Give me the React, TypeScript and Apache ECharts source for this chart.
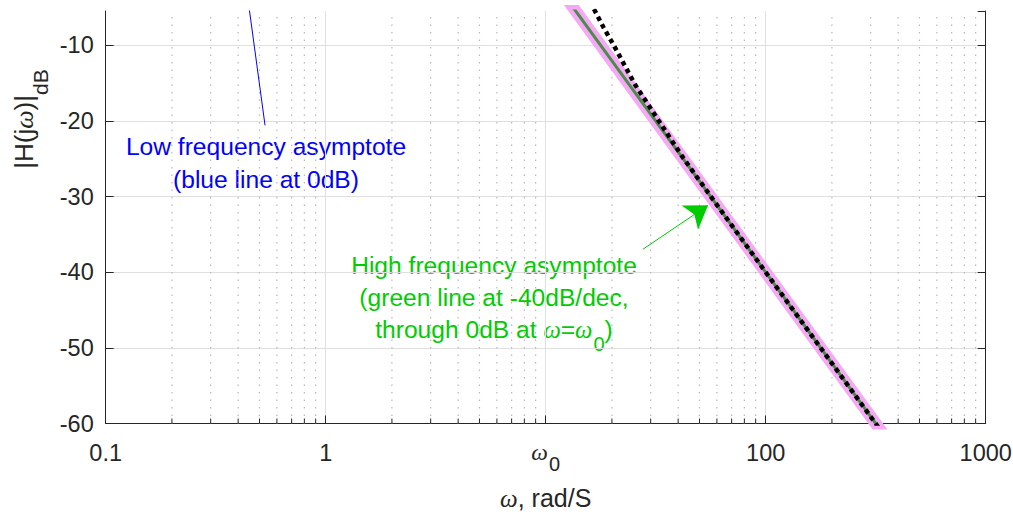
import { useEffect, useRef } from 'react';
import * as echarts from 'echarts';

// ---- axis / tick data ----
const xTickLabels = ['0.1', '1', '{w|ω}{s|0}', '100', '1000'];
const decadeStarts = [0.1, 1, 10, 100];
const minorMultipliers = [2, 3, 4, 5, 6, 7, 8, 9];
const yMin = -60;
const yMax = -5.45;
const yStep = 10;

// ---- series data ([omega rad/s, dB]) ----
const lowFreqAsymptote = [[0.1, 0], [10, 0]];
const highFreqAsymptote = [[10, 0], [1000, -80]];
const magnitudeThick = [[10, 0], [1000, -80]];
const magnitudeDotted = [
  [13.9, -1.3], [16.75, -5.45], [18.3, -7.6], [20.4, -10], [25.5, -15.2],
  [32.7, -20], [42, -24.8], [56.4, -30], [100, -40], [316, -60], [400, -64.1],
];
const lowLeader = [[0.53, -20.57], [0.425, 0]];
const highArrow = [[27.7, -36.95], [54.7, -31.14]];

const FONT = '"Liberation Sans", Arial, Helvetica, sans-serif';
const SERIF = '"Liberation Serif", "DejaVu Serif", serif';
const AX = '#262626';
const BLUE = '#0000ff';
const GREEN_TXT = '#00cc00';
const TXT = 24.6;

const minorValues = decadeStarts.flatMap((d) => minorMultipliers.map((m) => [m * d, yMin]));

export default function App() {
  const ref = useRef<HTMLDivElement>(null);
  useEffect(() => {
    if (!ref.current) return;
    const chart = echarts.init(ref.current, null, { renderer: 'svg' });
    const centered = { align: 'center', textAlign: 'center', verticalAlign: 'middle', textVerticalAlign: 'middle' };
    const option: any = {
      animation: false,
      backgroundColor: '#ffffff',
      grid: { left: 105.7, right: 27.3, top: 11, bottom: 90.5, outerBoundsMode: 'none' },
      xAxis: {
        type: 'log',
        logBase: 10,
        min: 0.1,
        max: 1000,
        axisLine: { show: true, onZero: false, lineStyle: { color: AX, width: 1 } },
        axisTick: { show: true, inside: true, length: 8, lineStyle: { color: AX, width: 1 } },
        minorTick: { show: false },
        axisLabel: {
          margin: 17,
          color: AX,
          fontSize: 23.5,
          fontFamily: FONT,
          formatter: (v: number) => {
            const i = Math.round(Math.log10(v)) + 1;
            return xTickLabels[i] ?? '';
          },
          rich: {
            w: { fontFamily: SERIF, fontStyle: 'italic', fontSize: 23.5, color: AX, verticalAlign: 'top' },
            s: { fontFamily: FONT, fontSize: 20, color: AX, verticalAlign: 'top', padding: [13, 0, 0, 1] },
          },
        },
        splitLine: { show: true, lineStyle: { color: '#dfdfdf', width: 1 } },
        name: '{w|ω}, rad/S',
        nameLocation: 'middle',
        nameGap: 62,
        nameTextStyle: {
          fontSize: 25,
          fontFamily: FONT,
          color: AX,
          rich: { w: { fontFamily: SERIF, fontStyle: 'italic', fontSize: 25, color: AX } },
        },
      },
      yAxis: [
        {
          type: 'value',
          position: 'left',
          min: yMin,
          max: yMax,
          interval: yStep,
          axisLine: { show: true, onZero: false, lineStyle: { color: AX, width: 1 } },
          axisTick: { show: true, inside: true, length: 8, lineStyle: { color: AX, width: 1 } },
          axisLabel: { margin: 12, color: AX, fontSize: 23.5, fontFamily: FONT, showMaxLabel: false },
          splitLine: { show: true, showMaxLine: false, lineStyle: { color: '#dfdfdf', width: 1 } },
        },
        {
          type: 'value',
          position: 'right',
          min: yMin,
          max: yMax,
          interval: yStep,
          axisLine: { show: true, onZero: false, lineStyle: { color: AX, width: 1 } },
          axisTick: { show: true, inside: true, length: 8, lineStyle: { color: AX, width: 1 } },
          axisLabel: { show: false },
          splitLine: { show: false },
        },
      ],
      series: [
        {
          type: 'custom',
          name: 'minor',
          silent: true,
          z: 1,
          data: minorValues,
          renderItem: (_p: any, api: any) => {
            const x = api.value(0);
            const b = api.coord([x, yMin]);
            const t = api.coord([x, yMax]);
            return {
              type: 'group',
              children: [
                { type: 'line', shape: { x1: b[0], y1: b[1], x2: t[0], y2: t[1] }, style: { stroke: '#b8b8b8', lineWidth: 1.2, lineDash: [1.5, 6] } },
                { type: 'line', shape: { x1: b[0], y1: b[1], x2: b[0], y2: b[1] - 5 }, style: { stroke: AX, lineWidth: 1 } },
              ],
            };
          },
        },
        {
          type: 'line', name: 'thick', data: magnitudeThick, showSymbol: false, symbol: 'none', z: 2,
          lineStyle: { color: '#f5a8f3', width: 12 },
        },
        {
          type: 'line', name: 'lowAsym', data: lowFreqAsymptote, showSymbol: false, symbol: 'none', z: 3,
          lineStyle: { color: BLUE, width: 1 },
        },
        {
          type: 'line', name: 'highAsym', data: highFreqAsymptote, showSymbol: false, symbol: 'none', z: 3,
          lineStyle: { color: '#4b8c4b', width: 3 },
        },
        {
          type: 'line', name: 'dotted', data: magnitudeDotted, showSymbol: false, symbol: 'none', z: 4, smooth: false,
          lineStyle: { color: '#000000', width: 4.5, type: [4.5, 4] },
        },
        {
          type: 'line', name: 'lowLeader', data: lowLeader, showSymbol: false, symbol: 'none', z: 5,
          lineStyle: { color: BLUE, width: 1 },
        },
        {
          type: 'line', name: 'arrow', data: [], z: 5,
          markLine: {
            silent: true,
            symbol: ['none', 'arrow'],
            symbolSize: 22,
            label: { show: false },
            lineStyle: { color: GREEN_TXT, width: 1, type: 'solid' },
            data: [[{ coord: highArrow[0] }, { coord: highArrow[1] }]],
          },
        },
      ],
      graphic: [
        {
          type: 'text', x: 266, y: 146,
          style: { text: 'Low frequency asymptote', fill: BLUE, fontSize: TXT, fontFamily: FONT, ...centered },
        },
        {
          type: 'text', x: 266, y: 179,
          style: { text: '(blue line at 0dB)', fill: BLUE, fontSize: TXT, fontFamily: FONT, ...centered },
        },
        {
          type: 'text', x: 494, y: 265,
          style: { text: 'High frequency asymptote', fill: GREEN_TXT, fontSize: TXT, fontFamily: FONT, ...centered },
        },
        {
          type: 'text', x: 494, y: 297,
          style: { text: '(green line at -40dB/dec,', fill: GREEN_TXT, fontSize: TXT, fontFamily: FONT, ...centered },
        },
        {
          type: 'text', x: 494, y: 335,
          style: {
            text: '{g|through 0dB at }{w|ω}{g|=}{w|ω}{s|0}{g|)}',
            fill: GREEN_TXT, fontSize: TXT, fontFamily: FONT,
            ...centered,
            rich: {
              g: { fontSize: TXT, fontFamily: FONT, fill: GREEN_TXT, color: GREEN_TXT, verticalAlign: 'top' },
              w: { fontSize: TXT, fontFamily: SERIF, fontStyle: 'italic', fill: GREEN_TXT, color: GREEN_TXT, verticalAlign: 'top' },
              s: { fontSize: 20, fontFamily: FONT, fill: GREEN_TXT, color: GREEN_TXT, verticalAlign: 'top', padding: [17, 0, 0, 1] },
            },
          },
        },
        {
          type: 'text', x: 31, y: 119, rotation: Math.PI / 2,
          style: {
            text: '{n||H(j}{w|ω}{n|)|}{s|dB}',
            fill: AX, fontSize: 26, fontFamily: FONT,
            ...centered,
            rich: {
              n: { fontSize: 26, fontFamily: FONT, fill: AX, color: AX, verticalAlign: 'top' },
              w: { fontSize: 26, fontFamily: SERIF, fontStyle: 'italic', fill: AX, color: AX, verticalAlign: 'top' },
              s: { fontSize: 21, fontFamily: FONT, fill: AX, color: AX, verticalAlign: 'top', padding: [19, 0, 0, 0] },
            },
          },
        },
      ],
    };
    chart.setOption(option);
    return () => chart.dispose();
  }, []);
  return (
    <div
      ref={ref}
      style={{ position: 'fixed', left: 0, top: 0, width: 1013, height: 514, background: '#fff' }}
    />
  );
}
